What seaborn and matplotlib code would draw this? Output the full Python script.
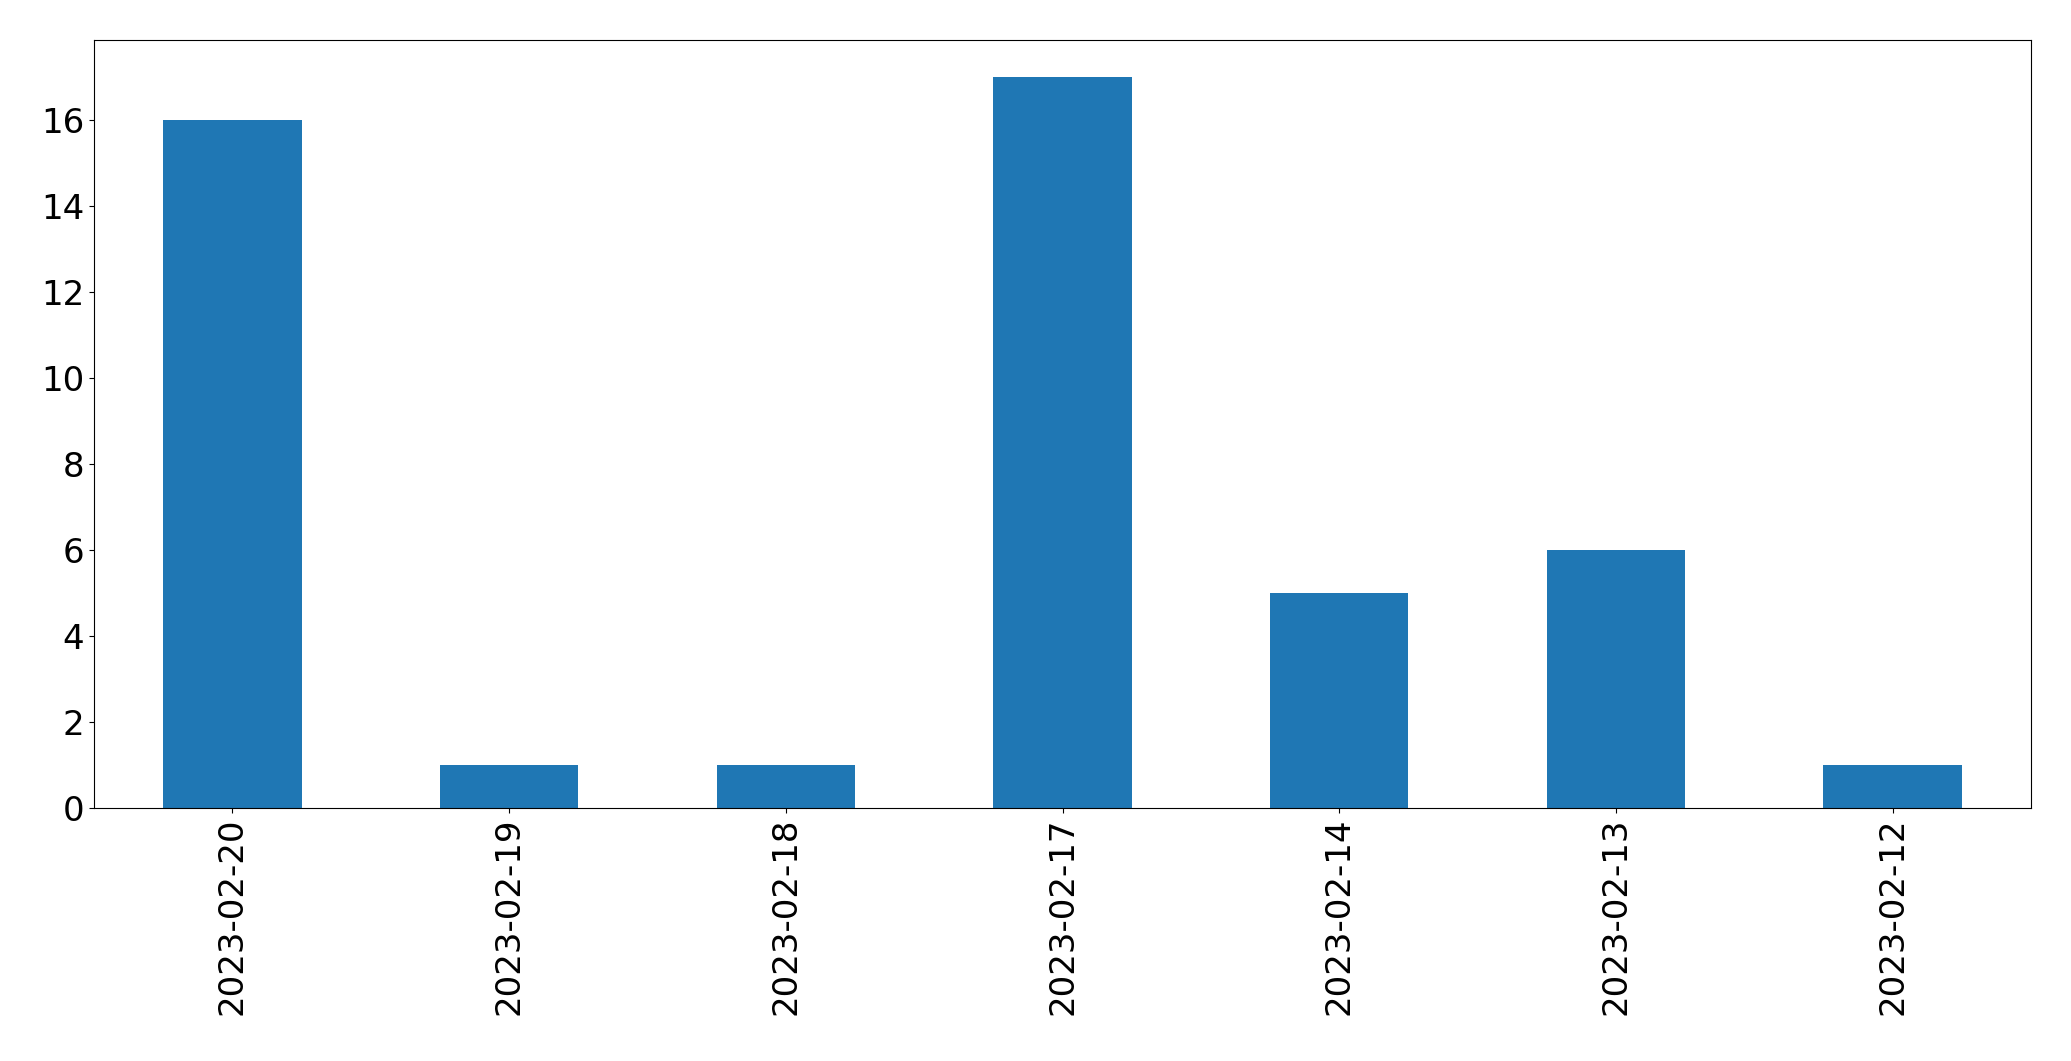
import pandas as pd
import matplotlib
matplotlib.use("Agg")
import matplotlib.pyplot as plt
import seaborn as sns

# data
dates = ["2023-02-20", "2023-02-19", "2023-02-18", "2023-02-17",
         "2023-02-14", "2023-02-13", "2023-02-12"]
counts = [16, 1, 1, 17, 5, 6, 1]

df = pd.DataFrame({"date": dates, "count": counts})

fig, ax = plt.subplots(figsize=(20.71, 10.61), dpi=100)
fig.subplots_adjust(left=0.0454, right=0.9807, top=0.9623, bottom=0.2385)

sns.barplot(data=df, x="date", y="count", order=dates, ax=ax,
            color="#1f77b4", saturation=1, width=0.5)

ax.set_xlim(-0.5, len(dates) - 0.5)
ax.set_ylim(0, 17.85)
ax.set_yticks(range(0, 17, 2))
ax.set_xlabel("")
ax.set_ylabel("")
ax.tick_params(axis="both", labelsize=24.5)
plt.setp(ax.get_xticklabels(), rotation=90)

plt.savefig("out.png", dpi=100)
plt.close()
